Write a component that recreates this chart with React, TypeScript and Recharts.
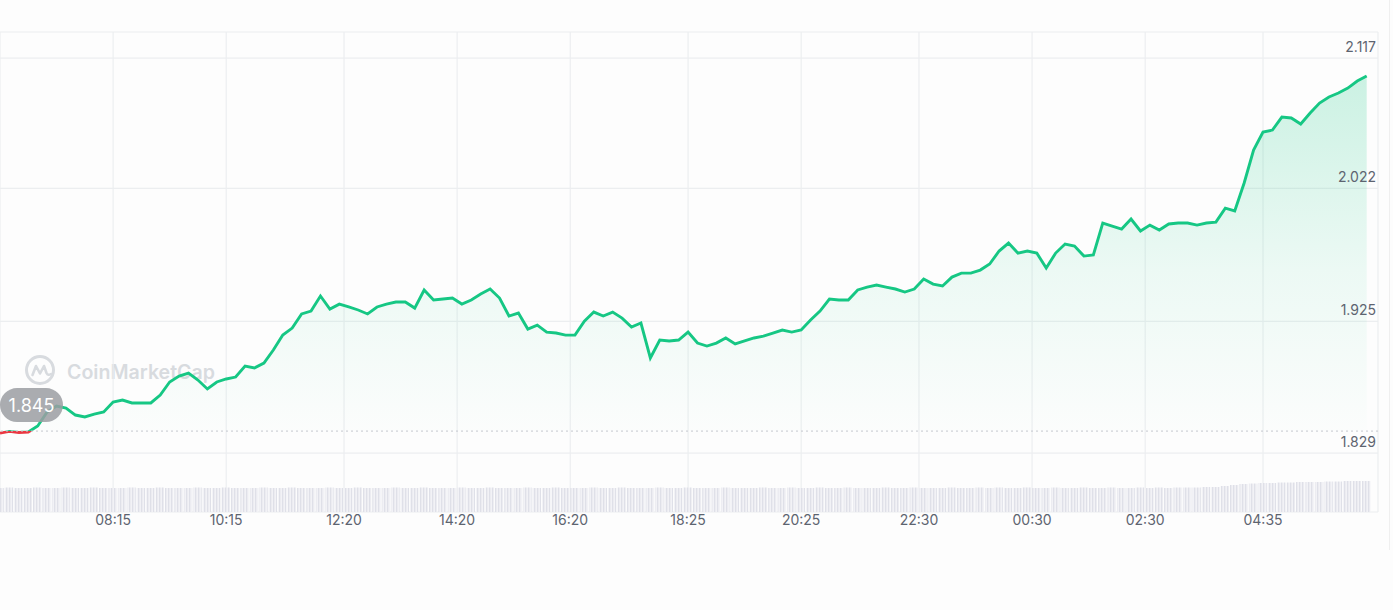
import React from 'react';
import { ComposedChart, Area, Bar, XAxis, YAxis, CartesianGrid, ReferenceLine } from 'recharts';

const START_TIME = '06:15';
const STEP_MINUTES = 10;

const prices = [
  1.8435, 1.8448, 1.8440, 1.8443, 1.8487, 1.8589, 1.8633, 1.8618, 1.8567, 1.8553,
  1.8574, 1.8589, 1.8662, 1.8676, 1.8655, 1.8655, 1.8655, 1.8713, 1.8808, 1.8851,
  1.8873, 1.8822, 1.8757, 1.8808, 1.8830, 1.8844, 1.8924, 1.8910, 1.8946, 1.9041,
  1.9150, 1.9201, 1.9304, 1.9325, 1.9435, 1.9340, 1.9376, 1.9355, 1.9333, 1.9304,
  1.9355, 1.9376, 1.9391, 1.9391, 1.9347, 1.9479, 1.9406, 1.9413, 1.9420, 1.9376,
  1.9406, 1.9449, 1.9486, 1.9420, 1.9289, 1.9311, 1.9194, 1.9223, 1.9172, 1.9165,
  1.9150, 1.9150, 1.9252, 1.9318, 1.9289, 1.9318, 1.9274, 1.9209, 1.9238, 1.8983,
  1.9114, 1.9107, 1.9114, 1.9172, 1.9092, 1.9070, 1.9092, 1.9129, 1.9085, 1.9107,
  1.9129, 1.9143, 1.9165, 1.9187, 1.9172, 1.9187, 1.9260, 1.9325, 1.9413, 1.9406,
  1.9406, 1.9479, 1.9500, 1.9515, 1.9500, 1.9486, 1.9464, 1.9486, 1.9559, 1.9522,
  1.9508, 1.9573, 1.9602, 1.9602, 1.9624, 1.9668, 1.9763, 1.9821, 1.9748, 1.9763,
  1.9748, 1.9639, 1.9748, 1.9814, 1.9799, 1.9726, 1.9734, 1.9967, 1.9945, 1.9923,
  1.9996, 1.9909, 1.9952, 1.9916, 1.9960, 1.9967, 1.9967, 1.9952, 1.9967, 1.9974,
  2.0076, 2.0055, 2.0259, 2.0499, 2.0631, 2.0645, 2.0740, 2.0733, 2.0689, 2.0769,
  2.0842, 2.0886, 2.0915, 2.0951, 2.1002, 2.1039,
];

const volumes = [
  24, 24.5, 24, 24, 24.5, 24, 24, 24.5, 24, 24,
  24.5, 24, 24, 24, 24.5, 24, 24, 24.5, 24, 24,
  24, 24.5, 24, 24, 24.5, 24, 24, 24, 24.5, 24,
  24, 24.5, 24, 24, 24, 24.5, 24, 24, 24.5, 24,
  24, 24, 24.5, 24, 24, 24.5, 24, 24, 24, 24.5,
  24, 24, 24.5, 24, 24, 24, 24.5, 24, 24, 24.5,
  24, 24, 24, 24.5, 24, 24, 24.5, 24, 24, 24,
  24.5, 24, 24, 24.5, 24, 24, 24, 24.5, 24, 24,
  24, 24.5, 24, 24, 24.5, 24, 24, 24.5, 24, 24,
  24.5, 24, 24, 24, 24.5, 24, 24, 24.5, 24, 24,
  24, 24.5, 24, 24, 24.5, 24, 24.5, 24, 24, 24.5,
  24, 24, 24.5, 24, 24, 24.5, 24, 24, 24.5, 24,
  24, 24.5, 24, 24.5, 24, 24.5, 24.5, 24.5, 25, 25,
  26, 27, 28, 28.5, 29, 29, 29.5, 29.5, 30, 30,
  30, 30.5, 30.5, 31, 31, 31,
];

const timeTickLabels = ['08:15', '10:15', '12:20', '14:20', '16:20', '18:25', '20:25', '22:30', '00:30', '02:30', '04:35'];
const priceTicks = [1.829, 1.925, 2.022, 2.117];
const openPrice = 1.845;
const priceDomain = [1.786, 2.136];
const timeDomain = [0, 1462];
const volumeDomain = [0, 480];

const GREEN = '#16c784';
const RED = '#ea3943';
const TEXT = '#5d6470';

const toMin = (s: string) => {
  const [h, m] = s.split(':').map(Number);
  return h * 60 + m;
};
const startMin = toMin(START_TIME);
const tickMinutes = timeTickLabels.map((l) => (toMin(l) - startMin + 1440) % 1440);

const data = prices.map((p, i) => ({ t: i * STEP_MINUTES, price: p, volume: volumes[i] }));

const maxP = Math.max(...prices);
const minP = Math.min(...prices);
const splitOffset = (maxP - openPrice) / (maxP - minP);

const XTick = (props: any) => {
  const { x, y, payload } = props;
  const idx = tickMinutes.indexOf(payload.value);
  return (
    <text x={x} y={y + 13} textAnchor="middle" fill={TEXT} fontSize={14} fontFamily="Inter, sans-serif">
      {idx >= 0 ? timeTickLabels[idx] : ''}
    </text>
  );
};

const YTick = (props: any) => {
  const { x, y, payload } = props;
  return (
    <text x={x - 2} y={y - 6} textAnchor="end" fill={TEXT} fontSize={14} fontFamily="Inter, sans-serif">
      {Number(payload.value).toFixed(3)}
    </text>
  );
};

const OpenPill = (props: any) => {
  const vb = props.viewBox || { x: 0, y: 0 };
  const x = vb.x;
  const y = vb.y;
  return (
    <g>
      <rect x={x} y={y - 43} width={63} height={34} rx={17} fill="#9b9da2" fillOpacity={0.85} />
      <text x={x + 31.5} y={y - 19.5} textAnchor="middle" fill="#ffffff" fontSize={18} fontFamily="Inter, sans-serif">
        {openPrice.toFixed(3)}
      </text>
    </g>
  );
};

export default function App() {
  return (
    <div style={{ position: 'absolute', left: 0, top: 0, width: 1393, height: 610, background: '#fdfdfd', overflow: 'hidden' }}>
      <svg width={1393} height={610} style={{ position: 'absolute', left: 0, top: 0 }}>
        <g transform="translate(24,354)">
          <circle cx={16} cy={16} r={13.5} fill="none" stroke="#d8dbdf" strokeWidth={3} />
          <path d="M8.5 21 L12 12 L16 19.5 L20 12 L22.5 19 Q24 22 27 20" fill="none" stroke="#d8dbdf" strokeWidth={2.6} strokeLinejoin="round" strokeLinecap="round" />
        </g>
        <text x={67} y={379} fontSize={19.6} fontWeight={600} fill="#d8dbdf" fontFamily="Inter, sans-serif">CoinMarketCap</text>
      </svg>
      <div style={{ position: 'absolute', left: 1389, top: 0, width: 1, height: 550, background: '#efefef' }} />
      <div style={{ position: 'absolute', left: 0, top: 0 }}>
        <ComposedChart width={1393} height={610} data={data} margin={{ top: 32, right: 14, bottom: 68, left: 0 }}>
          <defs>
            <linearGradient id="areaFill" x1="0" y1="0" x2="0" y2="1">
              <stop offset="0%" stopColor={GREEN} stopOpacity={0.36} />
              <stop offset="55%" stopColor={GREEN} stopOpacity={0.12} />
              <stop offset="100%" stopColor={GREEN} stopOpacity={0.01} />
            </linearGradient>
            <linearGradient id="lineStroke" x1="0" y1="0" x2="0" y2="1">
              <stop offset={splitOffset} stopColor={GREEN} />
              <stop offset={splitOffset} stopColor={RED} />
            </linearGradient>
            <pattern id="volStripes" patternUnits="userSpaceOnUse" width={3} height={10}>
              <rect x={0} y={0} width={3} height={10} fill="#f2f2f6" />
              <rect x={0} y={0} width={1.3} height={10} fill="#dfe0e8" />
            </pattern>
          </defs>
          <CartesianGrid yAxisId="price" stroke="#eceef0" strokeWidth={1.2} />
          <XAxis
            dataKey="t"
            type="number"
            domain={timeDomain}
            ticks={tickMinutes}
            interval={0}
            axisLine={false}
            tickLine={false}
            tickSize={0}
            tickMargin={0}
            height={30}
            tick={<XTick />}
          />
          <YAxis
            yAxisId="price"
            orientation="right"
            domain={priceDomain}
            ticks={priceTicks}
            interval={0}
            axisLine={false}
            tickLine={false}
            tickSize={0}
            tickMargin={0}
            width={1}
            tick={<YTick />}
          />
          <YAxis yAxisId="vol" hide domain={volumeDomain} />
          <Bar yAxisId="vol" dataKey="volume" fill="url(#volStripes)" barSize={10} isAnimationActive={false} />
          <Area
            yAxisId="price"
            type="linear"
            dataKey="price"
            baseValue={openPrice}
            stroke="url(#lineStroke)"
            strokeWidth={2.9}
            fill="url(#areaFill)"
            dot={false}
            activeDot={false}
            isAnimationActive={false}
          />
          <ReferenceLine
            yAxisId="price"
            y={openPrice}
            stroke="#c5c9cf"
            strokeDasharray="2 3"
            strokeWidth={1}
            label={(p: any) => <OpenPill {...p} />}
          />
        </ComposedChart>
      </div>
    </div>
  );
}
